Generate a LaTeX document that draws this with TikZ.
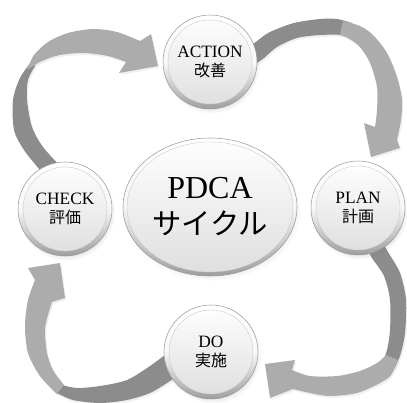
\documentclass[tikz,border=0pt]{standalone}
\usepackage{fontspec}
\setmainfont{Liberation Serif}
\newfontfamily\jp{Noto Sans CJK JP}
\usetikzlibrary{shapes.geometric,shadows,fadings}
\definecolor{arrlightc}{RGB}{172,172,172}
\definecolor{arrdarkc}{RGB}{140,140,140}
\tikzset{
  arrlight/.style={fill=arrlightc, drop shadow={opacity=0.12, shadow xshift=1pt, shadow yshift=-1.5pt}},
  arrdark/.style={fill=arrdarkc, drop shadow={opacity=0.12, shadow xshift=1pt, shadow yshift=-1.5pt}},
  ballnode/.style={circle, inner sep=0pt, minimum size=70.5pt, draw=black!40, line width=0.4pt,
    top color=white, bottom color=black!38, middle color=black!3,
    circular drop shadow={shadow xshift=1pt, shadow yshift=-2pt, shadow scale=1.04, opacity=0.22},
    path picture={\shade[top color=white, bottom color=black!13, draw=black!20, line width=0.3pt]
      (path picture bounding box.center) circle (31.5pt);},
    align=center, font=\fontsize{13}{14}\selectfont},
  bignode/.style={ellipse, inner sep=0pt, minimum width=130.5pt, minimum height=103.5pt,
    draw=black!40, line width=0.4pt, top color=white, bottom color=black!38, middle color=black!3,
    circular drop shadow={shadow xshift=1pt, shadow yshift=-2pt, shadow scale=1.03, opacity=0.22},
    path picture={\shade[top color=white, bottom color=black!13, draw=black!20, line width=0.3pt]
      (path picture bounding box.center) ellipse [x radius=62.25pt, y radius=48.75pt];},
    align=center, font=\fontsize{24}{27}\selectfont}
}
\begin{document}
\begin{tikzpicture}[x=0.75pt,y=-0.75pt]
\useasboundingbox (0,0) rectangle (407,403);
% top-left arrow (CHECK -> ACTION)
\fill[arrdark] plot[smooth] coordinates {(31,62) (20,78) (13,100) (14,130) (24,150) (40,170)}
  -- plot[smooth] coordinates {(62,168) (43,147) (32,127) (27,100) (28,80) (35,66)} -- cycle;
\fill[arrlight] plot[smooth] coordinates {(27,70) (34,55) (48,42) (68,33) (93,29) (117,32) (140,41)}
  -- (151,34) -- (158,66) -- (119,73)
  -- plot[smooth] coordinates {(126,62) (108,56) (84,53) (60,55) (42,61) (27,70)} -- cycle;
% top-right arrow (ACTION -> PLAN)
\fill[arrdark] plot[smooth] coordinates {(246,50) (257,41) (270,32) (294,23) (320,19) (337,19) (352,23)}
  -- plot[smooth] coordinates {(358,38) (344,35) (320,35) (297,38) (277,47) (264,58) (250,68)} -- cycle;
\fill[arrlight] plot[smooth] coordinates {(343,21) (360,26) (373,35) (387,53) (397,77) (402,100) (401,120) (397,140)}
  -- (400,148) -- (371,157) -- (364,123)
  -- plot[smooth] coordinates {(375,127) (377,110) (377,87) (370,63) (360,47) (348,38) (340,35)} -- cycle;
% bottom-right arrow (PLAN -> DO)
\fill[arrdark] plot[smooth] coordinates {(380,238) (388,252) (400,273) (406,300) (405,333) (400,356) (394,368)}
  -- plot[smooth] coordinates {(381,366) (387,350) (390,330) (390,300) (384,276) (372,258) (365,245)} -- cycle;
\fill[arrlight] plot[smooth] coordinates {(398,360) (391,375) (380,383) (357,393) (330,396) (310,393) (293,389)}
  -- (270,398) -- (265,364) -- (295,360)
  -- plot[smooth] coordinates {(292,370) (310,376) (337,376) (360,371) (377,363) (386,355)} -- cycle;
% bottom-left arrow (DO -> CHECK)
\fill[arrdark] plot[smooth] coordinates {(178,346) (165,355) (150,366) (127,380) (100,386) (77,388) (62,385)}
  -- plot[smooth] coordinates {(57,393) (73,400) (100,403) (127,400) (150,393) (170,381) (182,372)} -- cycle;
\fill[arrlight] plot[smooth] coordinates {(57,394) (40,376) (28,353) (25,326) (28,300) (35,280)}
  -- (28,268) -- (60,263) -- (65,298)
  -- plot[smooth] coordinates {(52,302) (48,315) (45,330) (47,353) (53,370) (64,385)} -- cycle;
% nodes
\node[bignode] (pdca) at (210,207) {PDCA\\{\jp\fontsize{22}{27}\selectfont サイクル}};
\node[ballnode] (act) at (210,62) {ACTION\\{\jp\fontsize{12}{14}\selectfont 改善}};
\node[ballnode] (plan) at (358,208) {PLAN\\{\jp\fontsize{12}{14}\selectfont 計画}};
\node[ballnode] (do) at (211,352) {DO\\{\jp\fontsize{12}{14}\selectfont 実施}};
\node[ballnode] (chk) at (65,209) {CHECK\\{\jp\fontsize{12}{14}\selectfont 評価}};
\end{tikzpicture}
\end{document}
